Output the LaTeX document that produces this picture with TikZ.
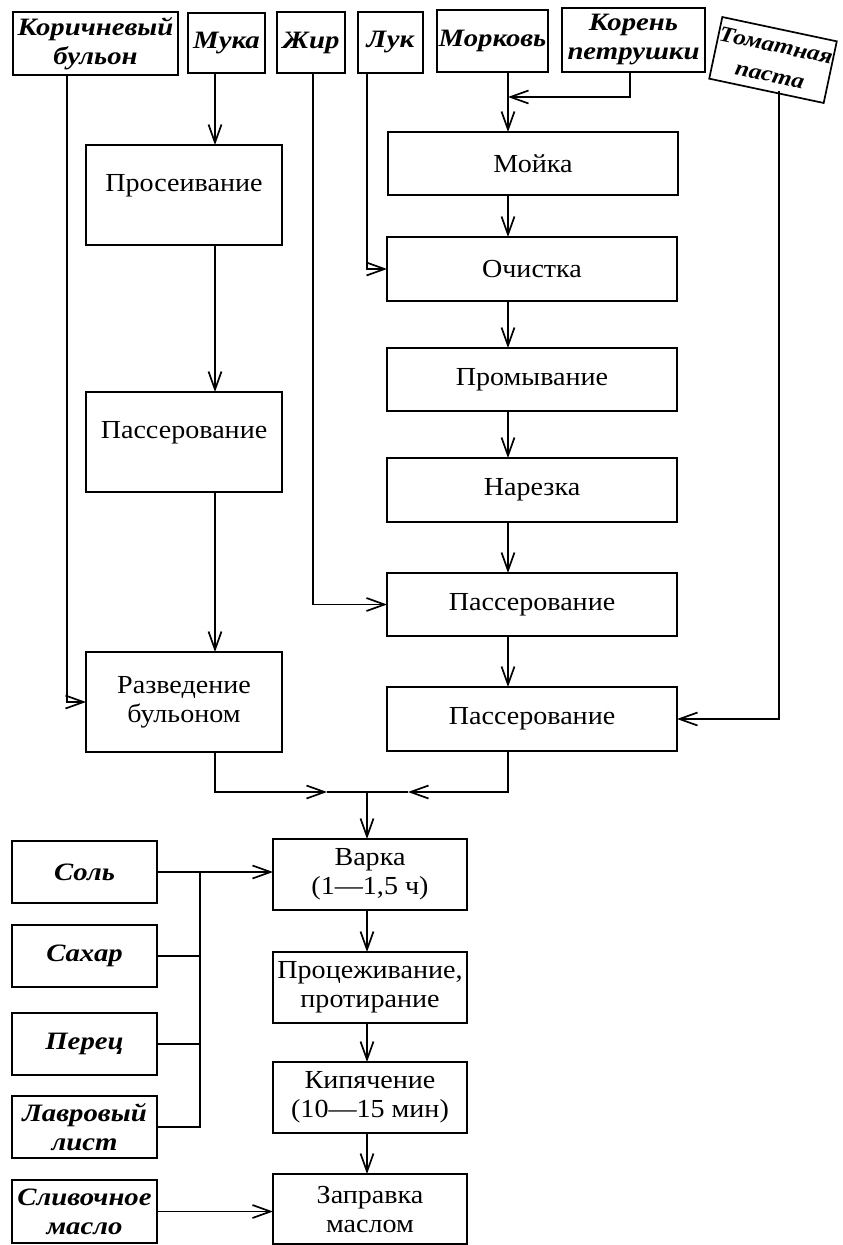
\documentclass[tikz,border=0pt]{standalone}
\usepackage{fontspec}
\setmainfont{Liberation Serif}
\newfontfamily\procfam[FakeStretch=1.08,Ligatures=TeX]{Liberation Serif}
\newfontfamily\inpfam[FakeStretch=1.15,Ligatures=TeX]{Liberation Serif}
\usetikzlibrary{arrows.meta}
\newcommand{\procfont}{\procfam\fontsize{26}{29}\selectfont}
\newcommand{\inpfont}{\inpfam\bfseries\itshape\fontsize{25}{29}\selectfont}
\begin{document}
\begin{tikzpicture}[x=1pt,y=-1pt,
  box/.style={draw, line width=1.7pt, inner sep=0pt, outer sep=0pt, align=center, font=\procfont},
  inbox/.style={box, font=\inpfont},
  con/.style={line width=1.7pt},
  arr/.style={con, -{Straight Barb[length=18pt,width=13pt]}}]
\useasboundingbox (0,0) rectangle (843,1245);
\fill[white] (0,0) rectangle (843,1245);
% column x positions of connectors
\coordinate (xKor) at (67,0);
\coordinate (xMuka) at (215,0);
\coordinate (xZhir) at (313,0);
\coordinate (xLuk) at (367,0);
\coordinate (xR) at (508,0);
\coordinate (xKoren) at (630,0);
\coordinate (xTom) at (779,0);
\coordinate (xBus) at (200,0);
\coordinate (xV) at (367,0);
% input boxes
\node[inbox, minimum width=165pt, minimum height=63pt] (kor) at (95.5,43.5) {Коричневый\\бульон};
\node[inbox, minimum width=77pt, minimum height=60pt] (muka) at (226.5,43) {Мука};
\node[inbox, minimum width=68pt, minimum height=61pt] (zhir) at (311,42.5) {Жир};
\node[inbox, minimum width=65pt, minimum height=61pt] (luk) at (390.5,42.5) {Лук};
\node[inbox, minimum width=111pt, minimum height=62pt] (mork) at (492.5,41) {Морковь};
\node[inbox, minimum width=143pt, minimum height=64pt] (koren) at (633.5,40) {Корень\\петрушки};
\node[inbox, minimum width=117pt, minimum height=63pt, rotate=-12, font=\inpfam\bfseries\itshape\fontsize{22}{30}\selectfont] (tom) at (773,60) {Томатная\\паста};
% left column
\node[box, minimum width=196pt, minimum height=100pt, text depth=24pt] (prosev) at (184,195) {Просеивание};
\node[box, minimum width=196pt, minimum height=100pt, text depth=24pt] (passL) at (184,442) {Пассерование};
\node[box, minimum width=196pt, minimum height=100pt] (razv) at (184,702) {Разведение\\бульоном};
% right column
\node[box, minimum width=290pt, minimum height=63pt] (moika) at (533,163.5) {Мойка};
\node[box, minimum width=290pt, minimum height=64pt] (ochist) at (532,269) {Очистка};
\node[box, minimum width=290pt, minimum height=63pt] (promyv) at (532,379.5) {Промывание};
\node[box, minimum width=290pt, minimum height=64pt] (narez) at (532,490) {Нарезка};
\node[box, minimum width=290pt, minimum height=63pt] (pass1) at (532,604.5) {Пассерование};
\node[box, minimum width=290pt, minimum height=64pt] (pass2) at (532,719) {Пассерование};
% bottom column
\node[box, minimum width=194pt, minimum height=71pt] (varka) at (370,874.5) {Варка\\(1—1,5 ч)};
\node[box, minimum width=194pt, minimum height=71pt] (proc) at (370,987.5) {Процеживание,\\протирание};
\node[box, minimum width=194pt, minimum height=71pt] (kip) at (370,1097.5) {Кипячение\\(10—15 мин)};
\node[box, minimum width=194pt, minimum height=70pt] (zapr) at (370,1209) {Заправка\\маслом};
% spices
\node[inbox, minimum width=145pt, minimum height=62pt] (sol) at (84.5,872) {Соль};
\node[inbox, minimum width=145pt, minimum height=62pt] (sah) at (84.5,956) {Сахар};
\node[inbox, minimum width=145pt, minimum height=62pt] (per) at (84.5,1044) {Перец};
\node[inbox, minimum width=145pt, minimum height=62pt] (lavr) at (84.5,1127) {Лавровый\\лист};
\node[inbox, minimum width=145pt, minimum height=63pt] (sliv) at (84.5,1211.5) {Сливочное\\масло};
% join points
\coordinate (kj) at (508,97);
\coordinate (jn) at (367,792);
\coordinate (jL) at (327,792);
\coordinate (jR) at (408,792);
% connectors: flour branch
\draw[arr] (muka.south -| xMuka) -- (prosev.north -| xMuka);
\draw[arr] (prosev.south -| xMuka) -- (passL.north -| xMuka);
\draw[arr] (passL.south -| xMuka) -- (razv.north -| xMuka);
\draw[arr] (kor.south -| xKor) |- (razv.west);
% vegetables branch
\draw[arr] (koren.south -| xKoren) |- (kj);
\draw[arr] (mork.south -| xR) -- (moika.north -| xR);
\draw[arr] (moika.south -| xR) -- (ochist.north -| xR);
\draw[arr] (luk.south -| xLuk) |- (ochist.west);
\draw[arr] (ochist.south -| xR) -- (promyv.north -| xR);
\draw[arr] (promyv.south -| xR) -- (narez.north -| xR);
\draw[arr] (narez.south -| xR) -- (pass1.north -| xR);
\draw[arr] (zhir.south -| xZhir) |- (pass1.west);
\draw[arr] (pass1.south -| xR) -- (pass2.north -| xR);
\draw[arr] (tom.south -| xTom) |- (pass2.east);
% join
\draw[arr] (razv.south -| xMuka) |- (jL);
\draw[con] (jL) -- (jn);
\draw[arr] (pass2.south -| xR) |- (jR);
\draw[con] (jR) -- (jn);
\draw[arr] (jn) -- (varka.north -| xV);
% bottom chain
\draw[arr] (varka.south -| xV) -- (proc.north -| xV);
\draw[arr] (proc.south -| xV) -- (kip.north -| xV);
\draw[arr] (kip.south -| xV) -- (zapr.north -| xV);
% spices
\draw[arr] (sol.east) -- (sol.east -| varka.west);
\draw[con] (lavr.east) -| (sol.east -| xBus);
\draw[con] (sah.east) -- (sah.east -| xBus);
\draw[con] (per.east) -- (per.east -| xBus);
\draw[arr] (sliv.east) -- (sliv.east -| zapr.west);
\end{tikzpicture}
\end{document}
